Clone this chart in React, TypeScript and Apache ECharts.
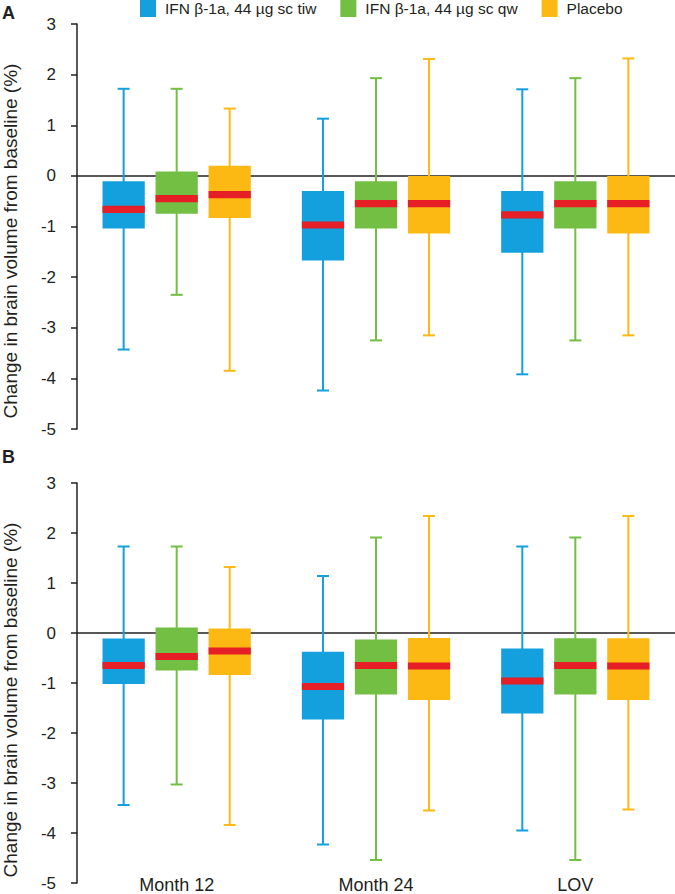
import React, { useEffect, useRef } from "react";
import * as echarts from "echarts";

const categories = ["Month 12", "Month 24", "LOV"];
const seriesNames = ["IFN β-1a, 44 µg sc tiw", "IFN β-1a, 44 µg sc qw", "Placebo"];
const seriesColors = ["#13a0dc", "#72bf44", "#fdb913"];
const medianColor = "#e51f25";
const yTicks = [-5, -4, -3, -2, -1, 0, 1, 2, 3];

// [min, Q1, median, Q3, max] per category
const panelA_tiw = [
  [-3.43, -1.04, -0.66, -0.105, 1.72],
  [-4.24, -1.67, -0.97, -0.3, 1.13],
  [-3.92, -1.52, -0.77, -0.3, 1.71],
];
const panelA_qw = [
  [-2.35, -0.75, -0.45, 0.085, 1.72],
  [-3.25, -1.04, -0.55, -0.105, 1.93],
  [-3.25, -1.04, -0.55, -0.105, 1.93],
];
const panelA_placebo = [
  [-3.85, -0.83, -0.37, 0.2, 1.33],
  [-3.15, -1.14, -0.55, 0.0, 2.31],
  [-3.15, -1.14, -0.55, 0.0, 2.32],
];
const panelB_tiw = [
  [-3.44, -1.02, -0.65, -0.11, 1.73],
  [-4.23, -1.73, -1.07, -0.375, 1.14],
  [-3.95, -1.61, -0.96, -0.31, 1.73],
];
const panelB_qw = [
  [-3.03, -0.75, -0.47, 0.11, 1.73],
  [-4.54, -1.23, -0.65, -0.13, 1.91],
  [-4.54, -1.23, -0.65, -0.107, 1.91],
];
const panelB_placebo = [
  [-3.84, -0.84, -0.36, 0.09, 1.32],
  [-3.55, -1.34, -0.66, -0.1, 2.34],
  [-3.53, -1.34, -0.66, -0.107, 2.34],
];

const FONT = "'Liberation Sans', Arial, Helvetica, sans-serif";
const TEXT = "#231f20";

function makeRender(slot: number, color: string) {
  return (params: any, api: any) => {
    const ci = api.value(0);
    const vals = [api.value(1), api.value(2), api.value(3), api.value(4), api.value(5)];
    const band = api.size([1, 0])[0];
    const boxW = band * 0.212;
    const capW = 12;
    const off = (slot - 1) * band * 0.266;
    const pMin = api.coord([ci, vals[0]]);
    const pQ1 = api.coord([ci, vals[1]]);
    const pMed = api.coord([ci, vals[2]]);
    const pQ3 = api.coord([ci, vals[3]]);
    const pMax = api.coord([ci, vals[4]]);
    const cx = pMin[0] + off;
    const lineStyle = { stroke: color, lineWidth: 2 };
    return {
      type: "group",
      children: [
        { type: "line", shape: { x1: cx, y1: pMax[1], x2: cx, y2: pMin[1] }, style: lineStyle },
        { type: "line", shape: { x1: cx - capW / 2, y1: pMax[1], x2: cx + capW / 2, y2: pMax[1] }, style: lineStyle },
        { type: "line", shape: { x1: cx - capW / 2, y1: pMin[1], x2: cx + capW / 2, y2: pMin[1] }, style: lineStyle },
        {
          type: "rect",
          shape: { x: cx - boxW / 2, y: pQ3[1], width: boxW, height: pQ1[1] - pQ3[1] },
          style: { fill: color },
        },
        {
          type: "rect",
          shape: { x: cx - boxW / 2, y: pMed[1] - 3.6, width: boxW, height: 7.2 },
          style: { fill: medianColor },
        },
      ],
    };
  };
}

function toData(arr: number[][]) {
  return arr.map((d, i) => [i, ...d]);
}

export default function App() {
  const ref = useRef<HTMLDivElement>(null);
  useEffect(() => {
    if (!ref.current) return;
    const chart = echarts.init(ref.current, undefined, { renderer: "svg" });
    const panels = [
      [panelA_tiw, panelA_qw, panelA_placebo],
      [panelB_tiw, panelB_qw, panelB_placebo],
    ];
    const grids = [
      { left: 77, top: 24, width: 598, height: 405 },
      { left: 77, top: 483, width: 598, height: 405 },
    ];
    const xAxes = grids.map((_, gi) => ({
      type: "category",
      gridIndex: gi,
      data: categories,
      axisLine: { show: false },
      axisTick: { show: false },
      axisLabel: {
        show: gi === 1,
        margin: -7,
        fontSize: 18,
        fontFamily: FONT,
        color: TEXT,
      },
    }));
    const yAxes = grids.map((_, gi) => ({
      type: "value",
      gridIndex: gi,
      min: yTicks[0],
      max: yTicks[yTicks.length - 1],
      interval: 1,
      splitLine: { show: false },
      axisLine: { show: true, lineStyle: { color: TEXT, width: 1.5 } },
      axisTick: { show: true, length: 6, lineStyle: { color: TEXT, width: 1.5 } },
      axisLabel: { margin: 21, fontSize: 17, fontFamily: FONT, color: TEXT },
    }));
    const series: any[] = [];
    panels.forEach((panel, gi) => {
      panel.forEach((arr, si) => {
        const s: any = {
          type: "custom",
          name: seriesNames[si],
          xAxisIndex: gi,
          yAxisIndex: gi,
          z: 3,
          itemStyle: { color: seriesColors[si] },
          encode: { x: 0, y: [1, 2, 3, 4, 5] },
          data: toData(arr),
          renderItem: makeRender(si, seriesColors[si]),
        };
        if (si === 0) {
          s.markLine = {
            silent: true,
            z: 1,
            symbol: ["none", "none"],
            label: { show: false },
            lineStyle: { color: TEXT, width: 1.5, type: "solid" },
            data: [{ yAxis: 0 }],
          };
        }
        series.push(s);
      });
    });
    chart.setOption({
      animation: false,
      backgroundColor: "#ffffff",
      grid: grids,
      xAxis: xAxes,
      yAxis: yAxes,
      legend: {
        left: 140,
        top: 0,
        padding: 0,
        itemWidth: 16,
        itemHeight: 17,
        itemGap: 24,
        textStyle: { fontSize: 15.5, fontFamily: FONT, color: TEXT, padding: [0, 0, 0, 4] },
        data: seriesNames.map((n, i) => ({ name: n, icon: "rect", itemStyle: { color: seriesColors[i] } })),
        selectedMode: false,
      },
      graphic: [
        { type: "text", left: 2, top: 4, style: { text: "A", font: `bold 18px ${FONT}`, fill: TEXT } },
        { type: "text", left: 2, top: 448, style: { text: "B", font: `bold 18px ${FONT}`, fill: TEXT } },
        {
          type: "text",
          x: 10,
          y: 241,
          rotation: Math.PI / 2,
          style: {
            text: "Change in brain volume from baseline (%)",
            font: `19px ${FONT}`,
            fill: TEXT,
            align: "center",
            verticalAlign: "middle",
          },
        },
        {
          type: "text",
          x: 10,
          y: 700,
          rotation: Math.PI / 2,
          style: {
            text: "Change in brain volume from baseline (%)",
            font: `19px ${FONT}`,
            fill: TEXT,
            align: "center",
            verticalAlign: "middle",
          },
        },
      ],
      series,
    });
    return () => chart.dispose();
  }, []);
  return (
    <div
      ref={ref}
      style={{ position: "fixed", left: 0, top: 0, width: 675, height: 894, background: "#fff" }}
    />
  );
}
